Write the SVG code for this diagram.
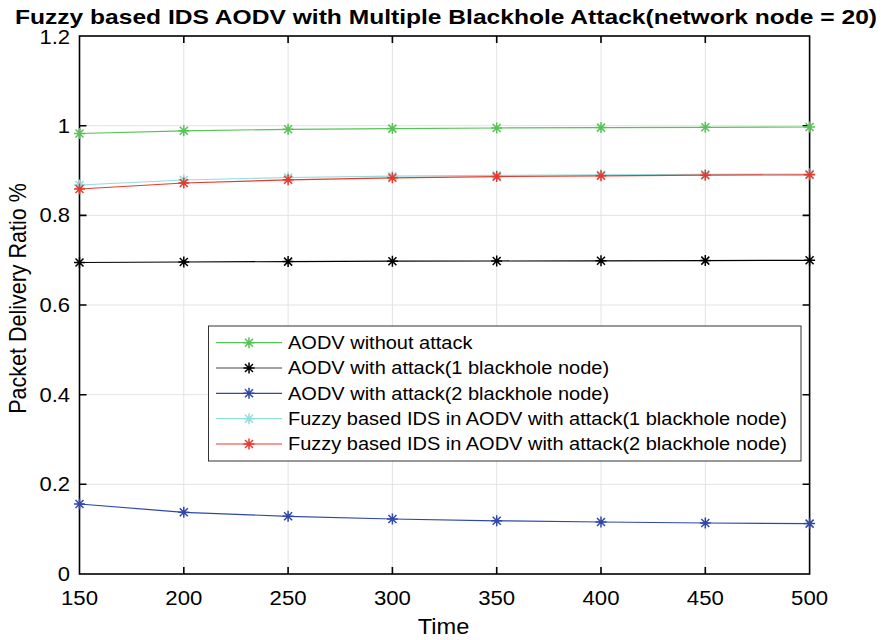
<svg xmlns="http://www.w3.org/2000/svg" width="884" height="640" viewBox="0 0 884 640">
<style>
text{font-family:"Liberation Sans",Arial,sans-serif;fill:#000}
.grid{stroke:#e3e3e3;stroke-width:1;fill:none}
.ax{stroke:#000;stroke-width:1.6;fill:none}
.tk{font-size:20px}
.s{fill:none;stroke-width:1.2}
.leg{font-size:17.5px}
.ll{fill:none;stroke-width:1.2}
</style>
<defs>
<marker id="mg" markerUnits="userSpaceOnUse" markerWidth="14" markerHeight="14" refX="7" refY="7" overflow="visible"><path d="M7 1.5V12.5M1.5 7H12.5M3 3L11 11M11 3L3 11" stroke="#55c355" stroke-width="1.5" fill="none"/></marker>
<marker id="mk" markerUnits="userSpaceOnUse" markerWidth="14" markerHeight="14" refX="7" refY="7" overflow="visible"><path d="M7 1.5V12.5M1.5 7H12.5M3 3L11 11M11 3L3 11" stroke="#000" stroke-width="1.5" fill="none"/></marker>
<marker id="mb" markerUnits="userSpaceOnUse" markerWidth="14" markerHeight="14" refX="7" refY="7" overflow="visible"><path d="M7 1.5V12.5M1.5 7H12.5M3 3L11 11M11 3L3 11" stroke="#2f47a8" stroke-width="1.5" fill="none"/></marker>
<marker id="mc" markerUnits="userSpaceOnUse" markerWidth="14" markerHeight="14" refX="7" refY="7" overflow="visible"><path d="M7 1.5V12.5M1.5 7H12.5M3 3L11 11M11 3L3 11" stroke="#8fdedd" stroke-width="1.5" fill="none"/></marker>
<marker id="mr" markerUnits="userSpaceOnUse" markerWidth="14" markerHeight="14" refX="7" refY="7" overflow="visible"><path d="M7 1.5V12.5M1.5 7H12.5M3 3L11 11M11 3L3 11" stroke="#e8392c" stroke-width="1.5" fill="none"/></marker>
</defs>
<rect width="884" height="640" fill="#fff"/>
<g id="grid">
<path class="grid" d="M183.8 36V574M288.1 36V574M392.4 36V574M496.7 36V574M601 36V574M705.3 36V574M79.5 484.3H809.6M79.5 394.7H809.6M79.5 305H809.6M79.5 215.4H809.6M79.5 125.7H809.6"/>
</g>
<g id="axes">
<rect class="ax" x="79.5" y="36" width="730.1" height="538"/>
<path class="ax" d="M183.8 574v-7M288.1 574v-7M392.4 574v-7M496.7 574v-7M601 574v-7M705.3 574v-7M183.8 36v7M288.1 36v7M392.4 36v7M496.7 36v7M601 36v7M705.3 36v7M79.5 484.3h7M79.5 394.7h7M79.5 305h7M79.5 215.4h7M79.5 125.7h7M809.6 484.3h-7M809.6 394.7h-7M809.6 305h-7M809.6 215.4h-7M809.6 125.7h-7"/>
<g class="tk" text-anchor="end" transform="translate(70 0) scale(1.1 1)">
<text x="0" y="581">0</text>
<text x="0" y="491.3">0.2</text>
<text x="0" y="401.7">0.4</text>
<text x="0" y="312">0.6</text>
<text x="0" y="222.4">0.8</text>
<text x="0" y="132.7">1</text>
<text x="0" y="44">1.2</text>
</g>
<g class="tk" text-anchor="middle">
<text x="79.5" y="605" textLength="37" lengthAdjust="spacingAndGlyphs">150</text>
<text x="183.8" y="605" textLength="37" lengthAdjust="spacingAndGlyphs">200</text>
<text x="288.1" y="605" textLength="37" lengthAdjust="spacingAndGlyphs">250</text>
<text x="392.4" y="605" textLength="37" lengthAdjust="spacingAndGlyphs">300</text>
<text x="496.7" y="605" textLength="37" lengthAdjust="spacingAndGlyphs">350</text>
<text x="601" y="605" textLength="37" lengthAdjust="spacingAndGlyphs">400</text>
<text x="705.3" y="605" textLength="37" lengthAdjust="spacingAndGlyphs">450</text>
<text x="809.6" y="605" textLength="37" lengthAdjust="spacingAndGlyphs">500</text>
</g>
<text x="443.5" y="634" font-size="22" text-anchor="middle" textLength="51.6" lengthAdjust="spacingAndGlyphs">Time</text>
<text transform="translate(26 298.5) scale(1.12 1) rotate(-90)" font-size="21.5" text-anchor="middle">Packet Delivery Ratio %</text>
<text x="446" y="23.5" font-size="21" font-weight="bold" text-anchor="middle" textLength="862" lengthAdjust="spacingAndGlyphs">Fuzzy based IDS AODV with Multiple Blackhole Attack(network node = 20)</text>
</g>
<g id="series">
<polyline id="s-green" class="s" stroke="#55c355" marker-start="url(#mg)" marker-mid="url(#mg)" marker-end="url(#mg)" points="79.5,133.5 183.8,130.8 288.1,129.3 392.4,128.6 496.7,128 601,127.6 705.3,127.3 809.6,127"/>
<polyline id="s-black" class="s" stroke="#000" stroke-width="1" marker-start="url(#mk)" marker-mid="url(#mk)" marker-end="url(#mk)" points="79.5,262.5 183.8,262 288.1,261.6 392.4,261.2 496.7,261 601,260.8 705.3,260.6 809.6,260.3"/>
<polyline id="s-blue" class="s" stroke="#2f47a8" marker-start="url(#mb)" marker-mid="url(#mb)" marker-end="url(#mb)" points="79.5,504 183.8,512.3 288.1,516.3 392.4,519 496.7,520.8 601,522 705.3,523 809.6,523.6"/>
<polyline id="s-cyan" class="s" stroke="#8fdedd" marker-start="url(#mc)" marker-mid="url(#mc)" marker-end="url(#mc)" points="79.5,185 183.8,180 288.1,177.5 392.4,176.2 496.7,175.4 601,174.8 705.3,174.4 809.6,174"/>
<polyline id="s-red" class="s" stroke="#e8392c" marker-start="url(#mr)" marker-mid="url(#mr)" marker-end="url(#mr)" points="79.5,189 183.8,183 288.1,179.8 392.4,177.8 496.7,176.6 601,175.8 705.3,175.2 809.6,174.8"/>
</g>
<g id="legend">
<rect x="208.5" y="326" width="592.5" height="135" fill="#fff" stroke="#333" stroke-width="1"/>
<polyline class="ll" points="216,342.7 249,342.7 282,342.7" stroke="#55c355" marker-mid="url(#mg)"/>
<polyline class="ll" points="216,368 249,368 282,368" stroke="#444" marker-mid="url(#mk)"/>
<polyline class="ll" points="216,393.3 249,393.3 282,393.3" stroke="#2f47a8" marker-mid="url(#mb)"/>
<polyline class="ll" points="216,418.7 249,418.7 282,418.7" stroke="#8fdedd" marker-mid="url(#mc)"/>
<polyline class="ll" points="216,444 249,444 282,444" stroke="#e8392c" marker-mid="url(#mr)"/>
<g class="leg" transform="translate(288 0) scale(1.143 1)">
<text x="0" y="349">AODV without attack</text>
<text x="0" y="374.3">AODV with attack(1 blackhole node)</text>
<text x="0" y="399.6">AODV with attack(2 blackhole node)</text>
<text x="0" y="425">Fuzzy based IDS in AODV with attack(1 blackhole node)</text>
<text x="0" y="450.3">Fuzzy based IDS in AODV with attack(2 blackhole node)</text>
</g>
</g>
</svg>
